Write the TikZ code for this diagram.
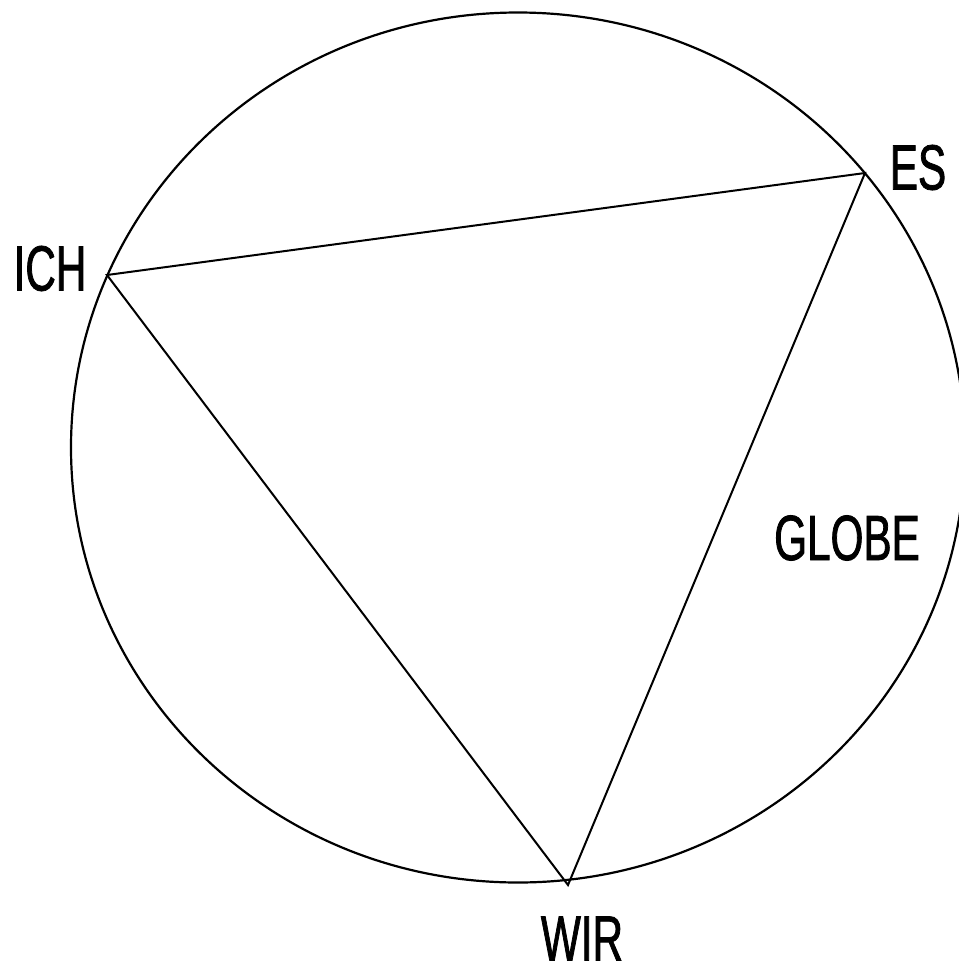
\documentclass[tikz,border=0pt]{standalone}
\usepackage{fontspec}
\newfontfamily\lblfont[FakeStretch=0.66,FakeBold=1.2]{Liberation Sans}
\begin{document}
\begin{tikzpicture}[x=1pt,y=-1pt,
  lbl/.style={font=\lblfont\fontsize{64}{70}\selectfont, inner sep=0pt, anchor=center},
  edge/.style={draw=black, line width=2pt, line join=miter}]
\useasboundingbox (0,0) rectangle (959,962);
\draw[line width=2.2pt] (518,447.5) ellipse[x radius=447, y radius=435];
\coordinate (ich) at (107,275);
\coordinate (es) at (865,173);
\coordinate (wir) at (568,885);
\draw[edge] (ich) -- (es) -- (wir) -- cycle;
\node[lbl] (tich) at (50,268.5) {ICH};
\node[lbl] (tes) at (918,167.5) {ES};
\node[lbl] (twir) at (582,938.5) {WIR};
\node[lbl] (tglobe) at (847,538) {GLOBE};
\end{tikzpicture}
\end{document}
